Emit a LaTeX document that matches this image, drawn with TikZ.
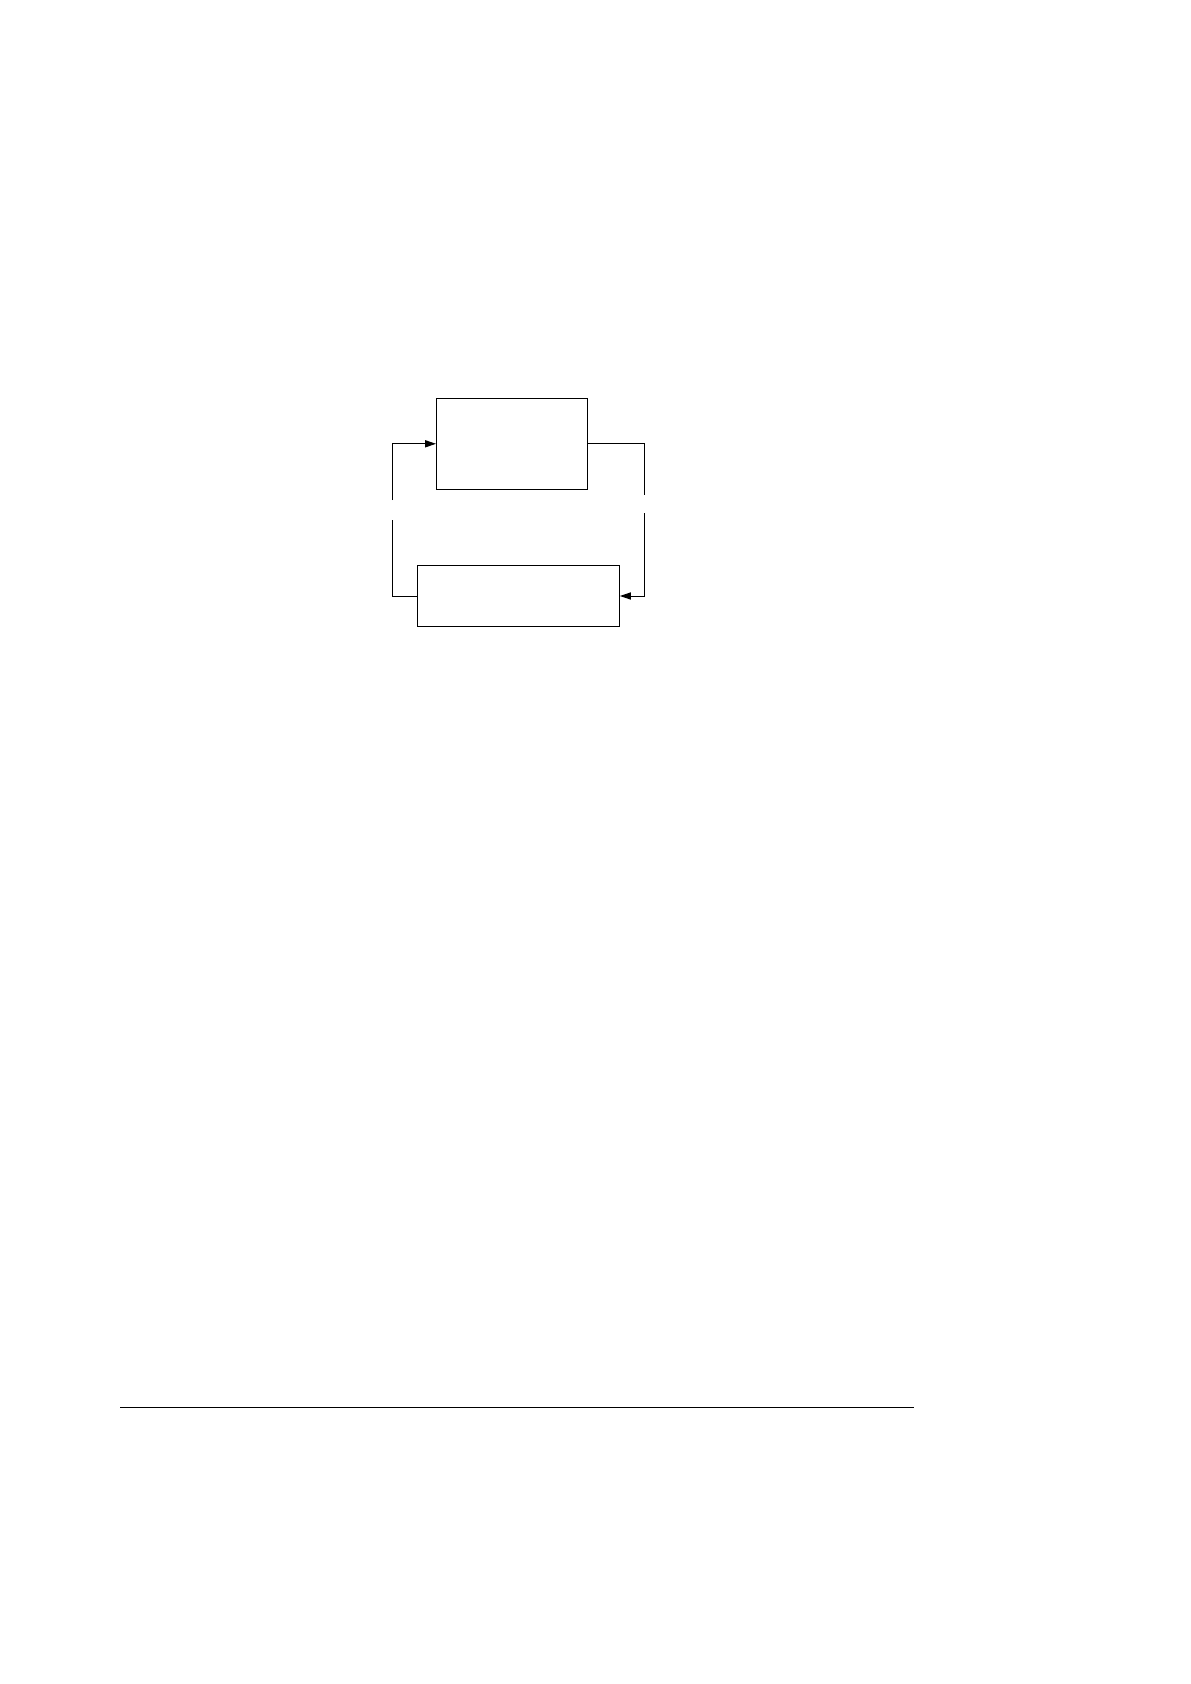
\documentclass[tikz,border=0pt]{standalone}
\usepackage{tikz}
\usetikzlibrary{positioning}
\usetikzlibrary{arrows.meta}

\begin{document}
\begin{tikzpicture}[x=1pt,y=1pt,
		block/.style={
			draw,
			rectangle,
			line width=0.5pt,
			inner sep=0pt,
		}, line width=0.5pt, >={Triangle[length=5.5pt,width=3.6pt]}]
		\useasboundingbox (0,0) rectangle (595,-842);
		
		\node[block, minimum width=75.5pt, minimum height=45.3pt] (plant) at (256,-221.9) {};
		\node[block, minimum width=101pt, minimum height=30.5pt] (ctrl) at (259.2,-298) {};
		
		% left branch, broken between the ends
		\coordinate (lgapl) at (196.2,-260);
		\coordinate (lgapu) at (196.2,-250);
		\draw (ctrl.west) -| (lgapl);
		\draw[->] (lgapu) |- (plant.west);
		
		% right branch, broken between the ends
		\coordinate (rgapu) at (322.2,-247.5);
		\coordinate (rgapl) at (322.2,-256.7);
		\draw (plant.east) -| (rgapu);
		\draw[->] (rgapl) |- (ctrl.east);
		
		% rule at the foot of the page
		\coordinate (rulel) at (60,-703.6);
		\coordinate (ruler) at (457.2,-703.6);
		\draw[line width=0.5pt] (rulel) -- (ruler);
	\end{tikzpicture}
\end{document}
